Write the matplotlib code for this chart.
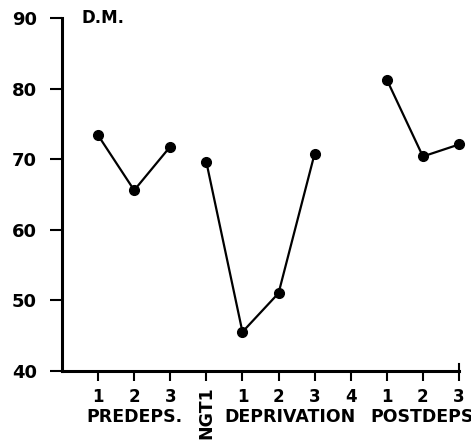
import matplotlib
matplotlib.use('Agg')
import matplotlib.pyplot as plt
import matplotlib.transforms as transforms

# D.M. scores per session, grouped by phase
predeps_x = [1, 2, 3]
predeps_y = [73.4, 65.6, 71.8]

depriv_x = [4, 5, 6, 7]          # NGT1 followed by deprivation days 1-3
depriv_y = [69.6, 45.5, 51.0, 70.8]

postdeps_x = [9, 10, 11]
postdeps_y = [81.3, 70.4, 72.1]

tick_pos = [1, 2, 3, 4, 5, 6, 7, 8, 9, 10, 11]
tick_labels = ['1', '2', '3', '', '1', '2', '3', '4', '1', '2', '3']

plt.rcParams['font.family'] = ['DejaVu Sans']

fig = plt.figure(figsize=(4.71, 4.46), dpi=100)
ax = fig.add_axes([62 / 471, 1 - 370.7 / 446, (459 - 62) / 471, (370.7 - 18.3) / 446])

for xs, ys in [(predeps_x, predeps_y), (depriv_x, depriv_y), (postdeps_x, postdeps_y)]:
    ax.plot(xs, ys, color='black', lw=1.6, marker='o', ms=7, clip_on=False)

ax.set_xlim(0, 11)
ax.set_ylim(40, 90)
ax.set_yticks([40, 50, 60, 70, 80, 90])
ax.set_xticks(tick_pos)
ax.set_xticklabels(tick_labels)

for s in ['top', 'right']:
    ax.spines[s].set_visible(False)
for s in ['left', 'bottom']:
    ax.spines[s].set_linewidth(2.2)

ax.tick_params(axis='y', length=8.6, width=1.5, labelsize=13, pad=9.4)
ax.tick_params(axis='x', length=7.5, width=1.5, labelsize=12, pad=5)
for lab in ax.get_xticklabels() + ax.get_yticklabels():
    lab.set_fontweight('bold')

# small upturn at the end of the x axis
ax.plot([11, 11], [40, 40.9], color='black', lw=1.5, clip_on=False)

ax.text(0.55, 90, 'D.M.', fontsize=12, fontweight='bold', va='center', ha='left')

# phase names under the session numbers
trans = transforms.blended_transform_factory(ax.transData, fig.transFigure)
label_y = 1 - 417 / 446
ax.text(2.0, label_y, 'PREDEPS.', transform=trans, ha='center', va='center',
        fontsize=12.5, fontweight='bold')
ax.text(6.32, label_y, 'DEPRIVATION', transform=trans, ha='center', va='center',
        fontsize=12.5, fontweight='bold')
ax.text(8.55, label_y, 'POSTDEPS', transform=trans, ha='left', va='center',
        fontsize=12.5, fontweight='bold')
ax.text(4, 1 - 413 / 446, 'NGT1', transform=trans, rotation=90, ha='center', va='center',
        fontsize=12.5, fontweight='bold')

fig.savefig('out.png', dpi=100)
